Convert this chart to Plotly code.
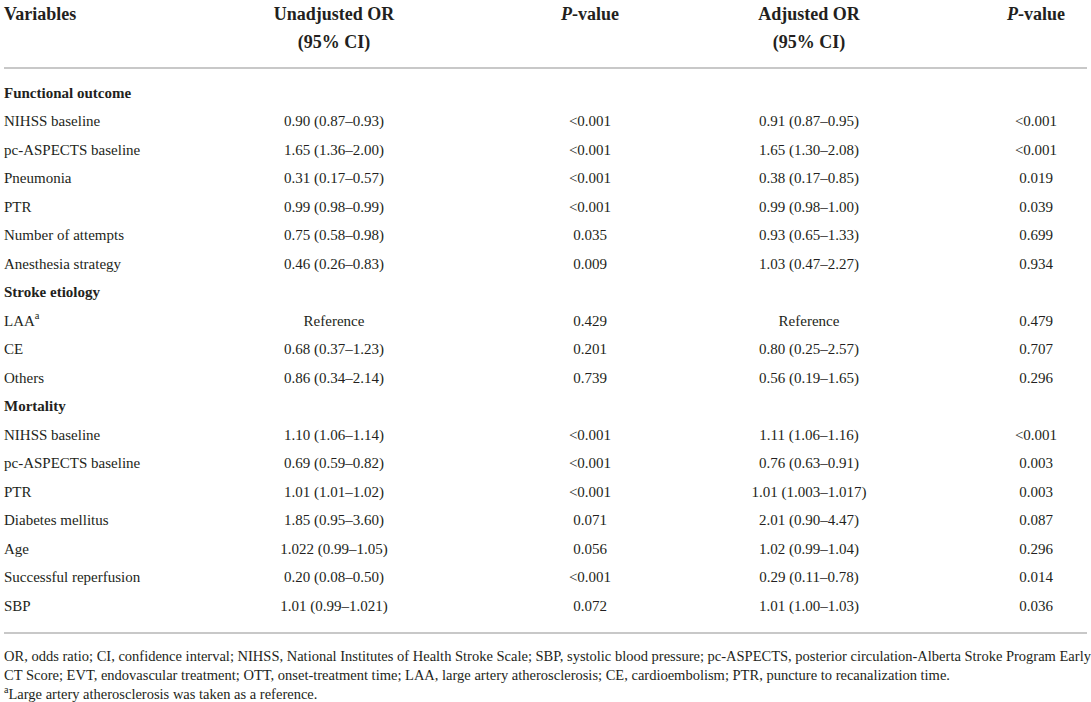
import plotly.graph_objects as go

# ---------------- data ----------------
header_line1 = ["Variables", "Unadjusted OR", "<i>P</i>-value", "Adjusted OR", "<i>P</i>-value"]
header_line2 = ["", "(95% CI)", "", "(95% CI)", ""]

variables = [
    "Functional outcome", "NIHSS baseline", "pc-ASPECTS baseline", "Pneumonia", "PTR",
    "Number of attempts", "Anesthesia strategy", "Stroke etiology", "LAA<sup>a</sup>", "CE",
    "Others", "Mortality", "NIHSS baseline", "pc-ASPECTS baseline", "PTR",
    "Diabetes mellitus", "Age", "Successful reperfusion", "SBP",
]
is_group = [True, False, False, False, False, False, False, True, False, False,
            False, True, False, False, False, False, False, False, False]
unadjusted_or = [
    "", "0.90 (0.87–0.93)", "1.65 (1.36–2.00)", "0.31 (0.17–0.57)", "0.99 (0.98–0.99)",
    "0.75 (0.58–0.98)", "0.46 (0.26–0.83)", "", "Reference", "0.68 (0.37–1.23)",
    "0.86 (0.34–2.14)", "", "1.10 (1.06–1.14)", "0.69 (0.59–0.82)", "1.01 (1.01–1.02)",
    "1.85 (0.95–3.60)", "1.022 (0.99–1.05)", "0.20 (0.08–0.50)", "1.01 (0.99–1.021)",
]
p_unadjusted = [
    "", "<0.001", "<0.001", "<0.001", "<0.001", "0.035", "0.009", "", "0.429", "0.201",
    "0.739", "", "<0.001", "<0.001", "<0.001", "0.071", "0.056", "<0.001", "0.072",
]
adjusted_or = [
    "", "0.91 (0.87–0.95)", "1.65 (1.30–2.08)", "0.38 (0.17–0.85)", "0.99 (0.98–1.00)",
    "0.93 (0.65–1.33)", "1.03 (0.47–2.27)", "", "Reference", "0.80 (0.25–2.57)",
    "0.56 (0.19–1.65)", "", "1.11 (1.06–1.16)", "0.76 (0.63–0.91)", "1.01 (1.003–1.017)",
    "2.01 (0.90–4.47)", "1.02 (0.99–1.04)", "0.29 (0.11–0.78)", "1.01 (1.00–1.03)",
]
p_adjusted = [
    "", "<0.001", "<0.001", "0.019", "0.039", "0.699", "0.934", "", "0.479", "0.707",
    "0.296", "", "<0.001", "0.003", "0.003", "0.087", "0.296", "0.014", "0.036",
]
footnotes = [
    "OR, odds ratio; CI, confidence interval; NIHSS, National Institutes of Health Stroke Scale; SBP, systolic blood pressure; pc-ASPECTS, posterior circulation-Alberta Stroke Program Early",
    "CT Score; EVT, endovascular treatment; OTT, onset-treatment time; LAA, large artery atherosclerosis; CE, cardioembolism; PTR, puncture to recanalization time.",
    "<sup>a</sup>Large artery atherosclerosis was taken as a reference.",
]

# ---------------- layout constants ----------------
W, H = 1091, 702
LEFT_X = 4
COL_X = [LEFT_X, 334, 590, 809, 1036]
HEAD_Y = [15, 43]
ROW0, ROW_STEP = 94, 28.5
RULE_Y = [68, 633]
FOOT_Y0, FOOT_STEP = 657, 19
FONT = "Liberation Serif"
TXT = "#231f20"

row_y = [ROW0 + i * ROW_STEP for i in range(len(variables))]

fig = go.Figure()

def text_trace(xs, ys, texts, size, pos, bold=False):
    keep = [(x, y, s) for x, y, s in zip(xs, ys, texts) if s]
    xs = [k[0] for k in keep]
    ys = [k[1] for k in keep]
    t = [f"<b>{k[2]}</b>" if bold else k[2] for k in keep]
    fig.add_trace(go.Scatter(
        x=xs, y=ys, text=t, mode="text", textposition=pos,
        textfont=dict(family=FONT, size=size, color=TXT),
        hoverinfo="skip", showlegend=False, cliponaxis=False,
    ))

# header
text_trace([COL_X[0]], [HEAD_Y[0]], [header_line1[0]], 18, "middle right", bold=True)
text_trace(COL_X[1:], [HEAD_Y[0]] * 4, header_line1[1:], 18, "middle center", bold=True)
text_trace(COL_X[1:], [HEAD_Y[1]] * 4, header_line2[1:], 18, "middle center", bold=True)

# variable column
var_text = [f"<b>{v}</b>" if g else v for v, g in zip(variables, is_group)]
text_trace([COL_X[0]] * len(variables), row_y, var_text, 15, "middle right")

# value columns
for cx, col in zip(COL_X[1:], [unadjusted_or, p_unadjusted, adjusted_or, p_adjusted]):
    text_trace([cx] * len(col), row_y, [c.replace("<", "&lt;") for c in col], 15, "middle center")

# footnotes
text_trace([COL_X[0]] * len(footnotes),
           [FOOT_Y0 + i * FOOT_STEP for i in range(len(footnotes))],
           footnotes, 14.5, "middle right")

shapes = [dict(type="line", xref="x", yref="y", x0=4, x1=1087, y0=y, y1=y,
               line=dict(color="#c8c8c8", width=2)) for y in RULE_Y]

fig.update_layout(
    width=W, height=H,
    margin=dict(l=0, r=0, t=0, b=0),
    paper_bgcolor="white", plot_bgcolor="white",
    xaxis=dict(range=[0, W], visible=False, fixedrange=True),
    yaxis=dict(range=[H, 0], visible=False, fixedrange=True),
    shapes=shapes,
)

fig.write_html("out.html", config={"displayModeBar": False, "staticPlot": True},
               post_script="document.body.style.margin='0';document.body.style.overflow='hidden';")
